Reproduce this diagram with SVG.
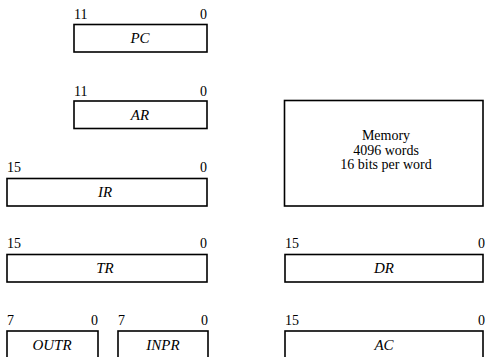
<svg xmlns="http://www.w3.org/2000/svg" width="485" height="357" viewBox="0 0 485 357">
<style>
.box{fill:#fff;stroke:#000;stroke-width:1.6}
.num{font-family:"Liberation Serif","Times New Roman",serif;font-size:14px;fill:#000}
.end{text-anchor:end}
.name{font-family:"Liberation Serif","Times New Roman",serif;font-size:15px;font-style:italic;fill:#000;text-anchor:middle}
.mem{font-family:"Liberation Serif","Times New Roman",serif;font-size:14px;fill:#000;text-anchor:middle}
</style>
<rect width="485" height="357" fill="#fff"/>
<g id="PC">
<text class="num" x="74" y="19">11</text><text class="num end" x="207" y="19">0</text>
<rect class="box" x="74" y="24.5" width="133" height="27.5"/>
<text class="name" x="140" y="43">PC</text>
</g>
<g id="AR">
<text class="num" x="74" y="96">11</text><text class="num end" x="207" y="96">0</text>
<rect class="box" x="74" y="101" width="133" height="27.5"/>
<text class="name" x="140" y="120">AR</text>
</g>
<g id="IR">
<text class="num" x="7" y="172">15</text><text class="num end" x="207" y="172">0</text>
<rect class="box" x="7" y="178.5" width="200" height="27.5"/>
<text class="name" x="105" y="197">IR</text>
</g>
<g id="TR">
<text class="num" x="7" y="248">15</text><text class="num end" x="207" y="248">0</text>
<rect class="box" x="7" y="254.5" width="200" height="27.5"/>
<text class="name" x="105" y="273">TR</text>
</g>
<g id="OUTR">
<text class="num" x="7" y="325">7</text><text class="num end" x="98" y="325">0</text>
<rect class="box" x="7" y="331" width="91" height="40"/>
<text class="name" x="52" y="350">OUTR</text>
</g>
<g id="INPR">
<text class="num" x="118" y="325">7</text><text class="num end" x="208" y="325">0</text>
<rect class="box" x="118" y="331" width="90" height="40"/>
<text class="name" x="163" y="350">INPR</text>
</g>
<g id="Memory">
<rect class="box" x="284.5" y="100.5" width="198.5" height="105.5"/>
<text class="mem" x="386" y="140">Memory</text>
<text class="mem" x="386" y="154.5">4096 words</text>
<text class="mem" x="386" y="169">16 bits per word</text>
</g>
<g id="DR">
<text class="num" x="285" y="248">15</text><text class="num end" x="485" y="248">0</text>
<rect class="box" x="285" y="254.5" width="198" height="27.5"/>
<text class="name" x="384" y="273">DR</text>
</g>
<g id="AC">
<text class="num" x="285" y="325">15</text><text class="num end" x="485" y="325">0</text>
<rect class="box" x="285" y="331" width="198" height="40"/>
<text class="name" x="384" y="350">AC</text>
</g>
<g id="connectors"></g>
</svg>
